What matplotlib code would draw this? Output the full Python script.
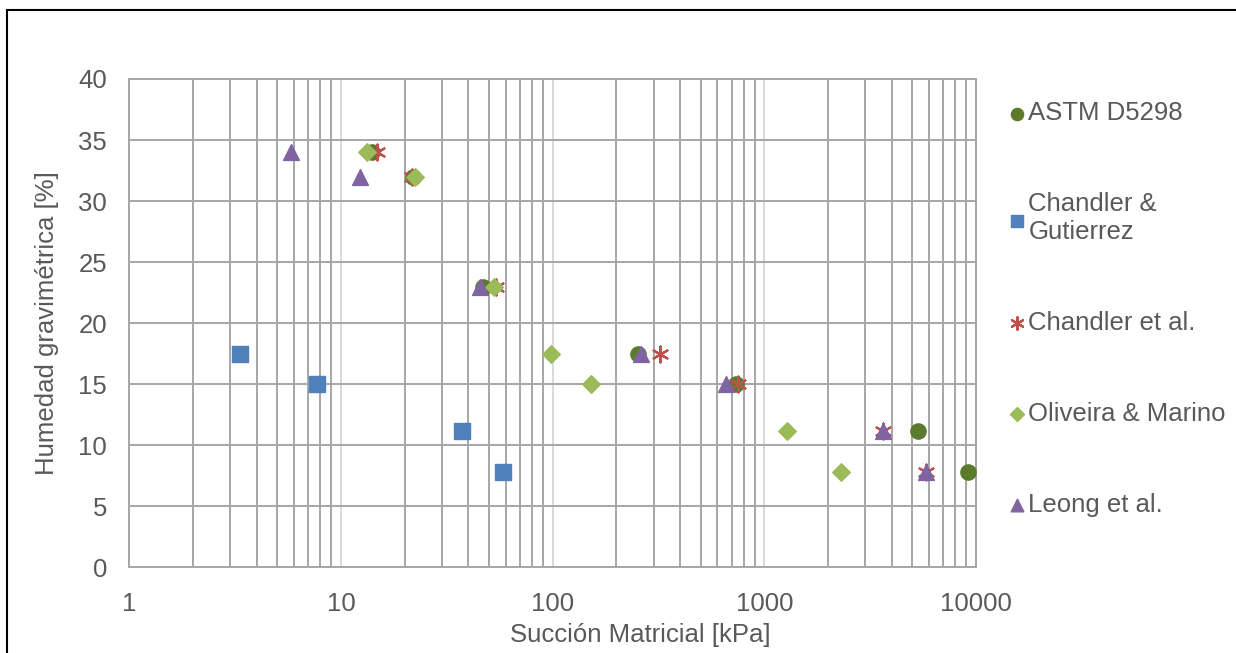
import numpy as np
import matplotlib.pyplot as plt
from matplotlib.ticker import LogLocator, FixedFormatter, FixedLocator, NullFormatter
from matplotlib.patches import Rectangle

plt.rcParams['font.family'] = ['Liberation Sans', 'DejaVu Sans']

# --- Data --- #
astm_x = [14.0, 21.9, 46.9, 253, 734, 5320, 9160]
astm_y = [34, 32, 23, 17.5, 15, 11.2, 7.8]

cg_x = [3.33, 7.7, 37.3, 58.2]
cg_y = [17.5, 15, 11.2, 7.8]

ce_x = [14.8, 21.7, 54.0, 321, 750, 3630, 5800]
ce_y = [34, 32, 23, 17.5, 15, 11.2, 7.8]

om_x = [13.3, 22.4, 52.8, 98.2, 152, 1277, 2296]
om_y = [34, 32, 23, 17.5, 15, 11.2, 7.8]

le_x = [5.8, 12.3, 45.2, 261, 657, 3630, 5800]
le_y = [34, 32, 23, 17.5, 15, 11.2, 7.8]

x_ticks = [1, 10, 100, 1000, 10000]
x_tick_labels = ['1', '10', '100', '1000', '10000']
y_ticks = [0, 5, 10, 15, 20, 25, 30, 35, 40]

text_col = '#595959'
grid_dark = '#A6A6A6'
grid_light = '#D9D9D9'
fs = 18.5

fig = plt.figure(figsize=(12.36, 6.53), dpi=100)
ax = fig.add_axes([129.3 / 1236, 1 - 567.3 / 653, (976 - 129.3) / 1236, (567.3 - 79) / 653])

# --- Series --- #
ax.scatter(astm_x, astm_y, marker='o', s=120, color='#5B7A2C', label='ASTM D5298', zorder=3)
ax.scatter(cg_x, cg_y, marker='s', s=120, color='#4F81BD', label='Chandler &\nGutierrez', zorder=3)
ax.scatter(ce_x, ce_y, marker=(6, 2, 0), s=130, color='#C0504D', linewidths=1.6,
           label='Chandler et al.', zorder=3)
ax.scatter(om_x, om_y, marker='D', s=80, color='#9BBB59', label='Oliveira & Marino', zorder=3)
ax.scatter(le_x, le_y, marker='^', s=130, color='#8064A2', label='Leong et al.', zorder=3)

# --- Axes --- #
ax.set_xscale('log')
ax.set_xlim(1, 10000)
ax.set_ylim(0, 40)
ax.xaxis.set_major_locator(FixedLocator(x_ticks))
ax.xaxis.set_major_formatter(FixedFormatter(x_tick_labels))
ax.xaxis.set_minor_locator(LogLocator(base=10, subs=np.arange(2, 10)))
ax.xaxis.set_minor_formatter(NullFormatter())
ax.set_yticks(y_ticks)

ax.grid(True, which='minor', axis='x', color=grid_dark, linewidth=1.4)
ax.grid(True, which='major', axis='x', color=grid_light, linewidth=1.4)
ax.grid(True, which='major', axis='y', color=grid_dark, linewidth=1.4)
ax.set_axisbelow(True)
for s in ax.spines.values():
    s.set_color(grid_dark)
    s.set_linewidth(1.4)

ax.tick_params(which='both', length=0, labelsize=fs, colors=text_col)
ax.tick_params(axis='x', pad=18)
ax.tick_params(axis='y', pad=16)

ax.set_xlabel('Succión Matricial [kPa]', fontsize=fs, color=text_col)
ax.xaxis.set_label_coords(0.604, -0.115)
ax.set_ylabel('Humedad gravimétrica [%]', fontsize=fs, color=text_col, labelpad=14)

leg = ax.legend(loc='upper left', bbox_to_anchor=(1.024, 0.975), frameon=False,
                fontsize=fs, labelspacing=2.6, handletextpad=0.05, handlelength=0.8,
                borderaxespad=0, markerscale=0.8)
for t in leg.get_texts():
    t.set_color(text_col)

# outer chart border
fig.patches.append(Rectangle((7 / 1236, -0.1), 1.2, 1 - 10 / 653 + 0.1,
                             transform=fig.transFigure, fill=False,
                             edgecolor='black', linewidth=1.5))

fig.savefig('out.png', dpi=100)
